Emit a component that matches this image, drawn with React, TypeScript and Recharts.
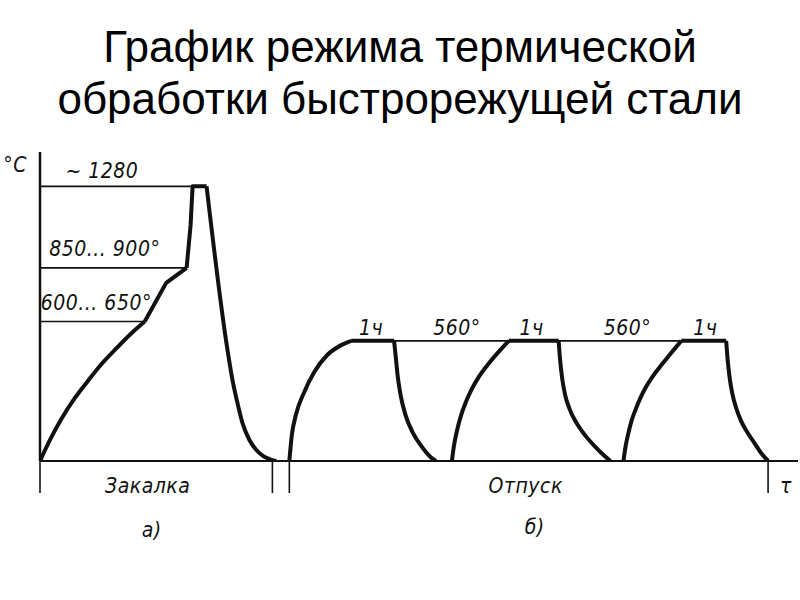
import { Line, LineChart, ReferenceDot, ReferenceLine, XAxis, YAxis } from "recharts";

// t: time (arbitrary units), T: temperature, °C — schematic
type Pt = { t: number; T: number };

// Закалка (hardening)
const preheatRise: Pt[] = [
  { t: 0, T: 0 },
  { t: 2, T: 98 },
  { t: 4.4, T: 200 },
  { t: 7, T: 294 },
  { t: 9.6, T: 373 },
  { t: 12, T: 443 },
  { t: 15.4, T: 527 },
  { t: 18.6, T: 601 },
  { t: 21, T: 650 },
];
const preheatRamp: Pt[] = [
  { t: 21, T: 650 },
  { t: 25.3, T: 830 },
  { t: 29.4, T: 900 },
];
const finalHeat: Pt[] = [
  { t: 29.4, T: 900 },
  { t: 30.2, T: 1100 },
  { t: 30.6, T: 1280 },
  { t: 33.4, T: 1280 },
];
const quench: Pt[] = [
  { t: 33.4, T: 1280 },
  { t: 37.6, T: 517 },
  { t: 38.6, T: 377 },
  { t: 39.6, T: 270 },
  { t: 40.6, T: 177 },
  { t: 42, T: 98 },
  { t: 44, T: 37 },
  { t: 46.4, T: 5 },
  { t: 47.4, T: 0 },
];

// Отпуск (tempering): three cycles at 560°, 1 h each
const temperRise: Pt[][] = [
  [
    { t: 50, T: 0 },
    { t: 50.5, T: 121 },
    { t: 51.3, T: 214 },
    { t: 53, T: 322 },
    { t: 55, T: 415 },
    { t: 57.6, T: 494 },
    { t: 60.4, T: 540 },
    { t: 62.4, T: 560 },
  ],
  [
    { t: 82.6, T: 0 },
    { t: 83, T: 70 },
    { t: 83.6, T: 140 },
    { t: 84.4, T: 210 },
    { t: 85.4, T: 275 },
    { t: 86.6, T: 336 },
    { t: 88, T: 392 },
    { t: 89.6, T: 443 },
    { t: 91.6, T: 499 },
    { t: 94, T: 560 },
  ],
  [
    { t: 117, T: 0 },
    { t: 117.4, T: 65 },
    { t: 118, T: 131 },
    { t: 118.6, T: 186 },
    { t: 119.4, T: 238 },
    { t: 120.4, T: 294 },
    { t: 121.4, T: 340 },
    { t: 122.8, T: 392 },
    { t: 124.6, T: 447 },
    { t: 126.4, T: 499 },
    { t: 128.6, T: 560 },
  ],
];
const temperHold: Pt[][] = [
  [
    { t: 62.4, T: 560 },
    { t: 71, T: 560 },
  ],
  [
    { t: 94, T: 560 },
    { t: 104, T: 560 },
  ],
  [
    { t: 128.6, T: 560 },
    { t: 137.6, T: 560 },
  ],
];
const temperCool: Pt[][] = [
  [
    { t: 71, T: 560 },
    { t: 71.3, T: 494 },
    { t: 71.7, T: 401 },
    { t: 72.3, T: 308 },
    { t: 73.3, T: 214 },
    { t: 74.7, T: 135 },
    { t: 76.3, T: 75 },
    { t: 78.3, T: 19 },
    { t: 79.4, T: 0 },
  ],
  [
    { t: 104, T: 560 },
    { t: 104.3, T: 470 },
    { t: 104.7, T: 387 },
    { t: 105.3, T: 308 },
    { t: 106.2, T: 242 },
    { t: 107.6, T: 177 },
    { t: 109.4, T: 117 },
    { t: 111.4, T: 65 },
    { t: 113, T: 28 },
    { t: 114.4, T: 0 },
  ],
  [
    { t: 137.6, T: 560 },
    { t: 137.9, T: 470 },
    { t: 138.3, T: 387 },
    { t: 138.8, T: 317 },
    { t: 139.6, T: 247 },
    { t: 140.6, T: 186 },
    { t: 141.8, T: 135 },
    { t: 143.4, T: 79 },
    { t: 144.6, T: 37 },
    { t: 146, T: 0 },
  ],
];

// thin guide lines: level, from, to
const guides = [
  { T: 1280, from: 0, to: 30.6 },
  { T: 900, from: 0, to: 29.4 },
  { T: 650, from: 0, to: 21 },
  { T: 560, from: 62, to: 137.6 },
];

// stage boundaries on the time axis
const stageTicks = [0, 46.6, 50, 146];

const notes = [
  { t: -5, T: 1380, text: "°C" },
  { t: 12.4, T: 1350, text: "~ 1280" },
  { t: 13, T: 990, text: "850... 900°" },
  { t: 11.3, T: 735, text: "600... 650°" },
  { t: 66.4, T: 620, text: "1ч" },
  { t: 83.6, T: 620, text: "560°" },
  { t: 98.6, T: 620, text: "1ч" },
  { t: 117.8, T: 620, text: "560°" },
  { t: 133.4, T: 620, text: "1ч" },
  { t: 21.6, T: -117, text: "Закалка" },
  { t: 97.4, T: -117, text: "Отпуск" },
  { t: 149.6, T: -117, text: "τ" },
  { t: 22.4, T: -322, text: "а)" },
  { t: 99.2, T: -308, text: "б)" },
];

const INK = "#111";
const DRAFT_FONT = '"DejaVu Sans Condensed", "Liberation Sans Narrow", "DejaVu Sans", sans-serif';

function curve(pts: Pt[], key: string, smooth: boolean) {
  return (
    <Line
      key={key}
      data={pts}
      dataKey="T"
      type={smooth ? "monotone" : "linear"}
      stroke={INK}
      strokeWidth={4}
      strokeLinejoin="round"
      dot={false}
      activeDot={false}
      isAnimationActive={false}
    />
  );
}

export default function App() {
  return (
    <div style={{ position: "absolute", left: 0, top: 0, width: 800, height: 600, background: "#fff" }}>
      <div
        style={{
          position: "absolute",
          left: 0,
          top: 21,
          width: 800,
          textAlign: "center",
          fontFamily: '"Liberation Sans", Arial, sans-serif',
          fontSize: 44,
          lineHeight: "52px",
          color: "#000",
        }}
      >
        График режима термической
        <br />
        обработки быстрорежущей стали
      </div>
      <LineChart width={800} height={600} margin={{ top: 152, right: 2, bottom: 109, left: 38 }}>
        <XAxis
          type="number"
          dataKey="t"
          domain={[0, 152]}
          ticks={stageTicks}
          interval={0}
          tickFormatter={() => ""}
          tickSize={32}
          height={30}
          axisLine={{ stroke: INK, strokeWidth: 2 }}
          tickLine={{ stroke: INK, strokeWidth: 1.6 }}
          allowDataOverflow
        />
        <YAxis
          type="number"
          domain={[0, 1440]}
          width={2}
          tickFormatter={() => ""}
          tickLine={false}
          axisLine={{ stroke: INK, strokeWidth: 2.5 }}
          allowDataOverflow
        />
        {guides.map((g, i) => (
          <ReferenceLine
            key={"g" + i}
            segment={[
              { x: g.from, y: g.T },
              { x: g.to, y: g.T },
            ]}
            stroke={INK}
            strokeWidth={1.6}
          />
        ))}
        {curve(preheatRise, "h1", true)}
        {curve(preheatRamp, "h2", false)}
        {curve(finalHeat, "h3", false)}
        {curve(quench, "h4", true)}
        {temperRise.map((p, i) => curve(p, "r" + i, true))}
        {temperHold.map((p, i) => curve(p, "k" + i, false))}
        {temperCool.map((p, i) => curve(p, "c" + i, true))}
        {notes.map((n, i) => (
          <ReferenceDot
            key={"n" + i}
            x={n.t}
            y={n.T}
            r={1}
            ifOverflow="visible"
            shape={(p: any) => (
              <text
                x={p.cx}
                y={p.cy}
                textAnchor="middle"
                dominantBaseline="central"
                fontFamily={DRAFT_FONT}
                fontStyle="italic"
                fontSize={21}
                letterSpacing={0.5}
                fill={INK}
              >
                {n.text}
              </text>
            )}
          />
        ))}
      </LineChart>
    </div>
  );
}
